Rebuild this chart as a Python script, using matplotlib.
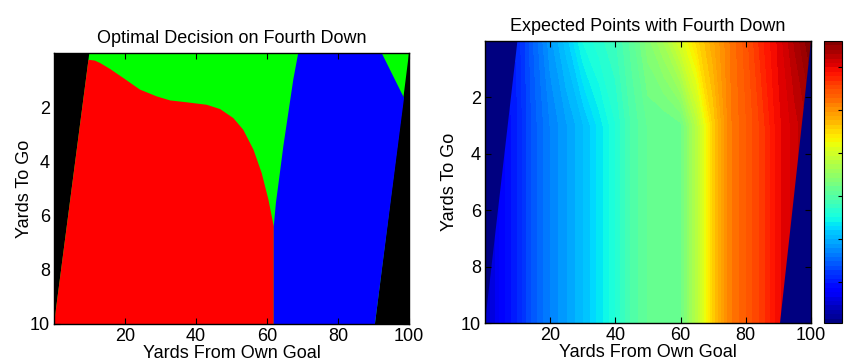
import numpy as np
import matplotlib
matplotlib.use('Agg')
import matplotlib.pyplot as plt

plt.rcParams['font.family'] = ['Liberation Sans', 'DejaVu Sans']
plt.rcParams['font.size'] = 13

# left panel: decision regions (boundaries)
feas_x = [0, 9.95, 100, 90.4]
feas_y = [10, 0, 0, 10]

red_top_x = [9.7, 11.5, 13.0, 15.8, 19.5, 24.2, 28.9, 32.7, 37.4, 43.0, 46.8, 50.5, 53.3, 56.2, 58.5, 60.4, 61.9]
red_top_y = [0.25, 0.28, 0.37, 0.59, 0.92, 1.35, 1.60, 1.75, 1.82, 1.91, 2.07, 2.40, 2.83, 3.57, 4.43, 5.41, 6.40]

blue_left_x = [68.8, 67.4, 66.0, 64.6, 63.5, 62.5, 61.9]
blue_left_y = [0, 0.98, 2.21, 3.44, 4.55, 5.54, 6.40]
blue_right_x = [61.9, 90.4, 98.6, 92.3]
blue_right_y = [10, 10, 1.66, 0]

# right panel: expected points
yard_cols = [0, 5, 10, 15, 20, 25, 30, 35, 40, 45, 50, 55, 60, 65, 70, 75, 80, 85, 90, 95, 100]
togo_rows = [0, 3, 10]
ep_short = [-1.30, -1.10, -0.90, -0.51, -0.15, 0.15, 0.51, 0.67, 0.80, 1.06, 1.39,
            1.65, 2.05, 2.50, 2.83, 3.16, 3.42, 3.75, 4.01, 4.31, 4.60]
ep_long = [-1.56, -1.20, -0.93, -0.57, -0.31, -0.12, 0.08, 0.34, 0.60, 0.93, 1.13,
           1.13, 1.19, 1.78, 2.57, 3.13, 3.36, 3.62, 3.95, 4.14, 4.34]
ep_min = -1.95
ep_max = 4.6

fig = plt.figure(figsize=(8.44, 3.62), dpi=100)

ax1 = fig.add_axes([0.064, 0.105, 0.4206, 0.7486])
ax1.set_facecolor('black')
ax1.fill(feas_x, feas_y, color=(0, 1, 0), lw=0)
ax1.fill([0] + red_top_x + [61.9], [10] + red_top_y + [10], color=(1, 0, 0), lw=0)
ax1.fill(blue_left_x + blue_right_x, blue_left_y + blue_right_y, color=(0, 0, 1), lw=0)
ax1.set_title('Optimal Decision on Fourth Down', fontsize=13, pad=7)

ax2 = fig.add_axes([0.5746, 0.1077, 0.3863, 0.779])
X, Y = np.meshgrid(yard_cols, togo_rows)
Z = np.array([ep_short, ep_long, ep_long])
levels = np.linspace(ep_min, ep_max, 65)
cs = ax2.contourf(X, Y, Z, levels=levels, cmap='jet', vmin=ep_min, vmax=ep_max)
navy = plt.get_cmap('jet')(0.0)
ax2.fill([0, 9.95, 0], [0, 0, 10], color=navy, lw=0)
ax2.fill([100, 100, 90.4], [0, 10, 10], color=navy, lw=0)
ax2.set_title('Expected Points with Fourth Down', fontsize=13, pad=7)

for ax, ypad in ((ax1, -2), (ax2, 2)):
    ax.set_xlim(0, 100)
    ax.set_ylim(10, 0)
    ax.set_xticks([20, 40, 60, 80, 100])
    ax.set_yticks([2, 4, 6, 8, 10])
    ax.tick_params(direction='in', top=True, right=True, length=4, width=0.8, pad=3)
    ax.set_xlabel('Yards From Own Goal', labelpad=0)
    ax.set_ylabel('Yards To Go', labelpad=ypad)
    for s in ax.spines.values():
        s.set_linewidth(1.0)

cax = fig.add_axes([0.9763, 0.1077, 0.0213, 0.779])
cb = fig.colorbar(cs, cax=cax, ticks=[-1, 0, 1, 2, 3, 4])
cb.ax.tick_params(direction='in', labelright=False, length=3, width=0.8)
cb.outline.set_linewidth(0.8)

fig.savefig('out.png', dpi=100)
